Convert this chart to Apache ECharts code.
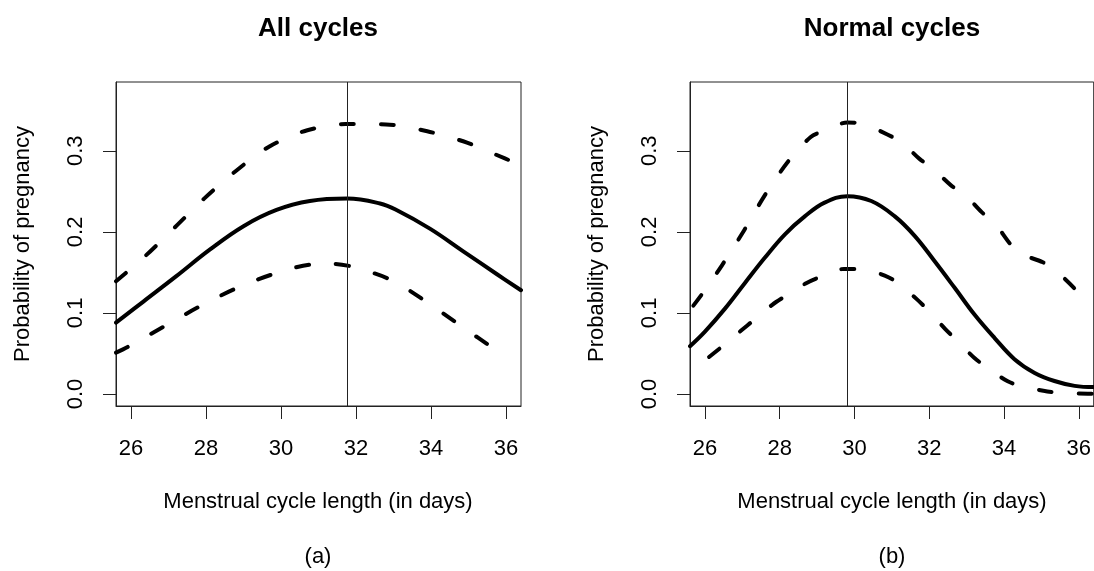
<!DOCTYPE html>
<html>
<head>
<meta charset="utf-8">
<script src="https://cdn.jsdelivr.net/npm/echarts@6/dist/echarts.min.js"></script>
<style>
html,body{margin:0;padding:0;background:#fff;}
#chart{width:1094px;height:571px;}
</style>
</head>
<body>
<div id="chart"></div>
<script>
// ---- Data ----
const xTicks = [26, 28, 30, 32, 34, 36];
const yTicks = [0, 0.1, 0.2, 0.3];

// Panel (a): All cycles
const allFitX = [25.6, 26.33, 27.2, 28.1, 29.0, 29.88, 30.77, 31.77, 32.64, 33.08, 33.97, 34.86, 35.75, 36.4];
const allFitY = [0.088, 0.114, 0.145, 0.178, 0.207, 0.227, 0.238, 0.241, 0.235, 0.227, 0.204, 0.176, 0.148, 0.128];
const allUpperX = [25.6, 26.4, 27.18, 27.95, 28.78, 29.68, 30.68, 31.72, 32.8, 33.9, 34.96, 35.97, 36.4];
const allUpperY = [0.139, 0.171, 0.206, 0.241, 0.2745, 0.305, 0.325, 0.333, 0.3325, 0.324, 0.310, 0.2905, 0.282];
const allLowerX = [25.6, 25.91, 26.86, 27.83, 28.79, 29.8, 30.86, 31.4, 31.98, 32.97, 33.9, 34.8, 35.71, 35.9];
const allLowerY = [0.051, 0.058, 0.0827, 0.108, 0.130, 0.148, 0.160, 0.1605, 0.156, 0.140, 0.113, 0.084, 0.055, 0.0506];
const allPeak = 31.77;

// Panel (b): Normal cycles
const normFitX = [25.6, 26.0, 26.53, 27.07, 27.6, 28.14, 28.67, 29.2, 29.81, 30.45, 31.08, 31.61, 32.14, 32.68, 33.21, 33.75, 34.28, 34.82, 35.35, 35.89, 36.4];
const normFitY = [0.059, 0.077, 0.105, 0.137, 0.168, 0.197, 0.219, 0.236, 0.244, 0.238, 0.219, 0.195, 0.164, 0.131, 0.098, 0.069, 0.043, 0.026, 0.016, 0.010, 0.0085];
const normUpperX = [25.69, 25.95, 26.46, 27.05, 27.6, 28.22, 28.83, 29.22, 29.81, 30.27, 30.88, 31.26, 31.74, 32.1, 32.59, 32.95, 33.41, 33.73, 34.15, 34.39, 35.04, 35.37, 35.87, 36.13];
const normUpperY = [0.109, 0.125, 0.159, 0.202, 0.245, 0.2865, 0.317, 0.325, 0.335, 0.3325, 0.320, 0.3106, 0.290, 0.278, 0.257, 0.246, 0.224, 0.212, 0.186, 0.174, 0.1625, 0.1526, 0.131, 0.116];
const normLowerX = [26.11, 26.43, 26.96, 27.29, 27.8, 28.14, 28.72, 29.12, 29.72, 30.19, 30.81, 31.16, 31.68, 31.97, 32.43, 32.72, 33.21, 33.53, 34.1, 34.5, 35.16, 35.62, 36.24, 36.4];
const normLowerY = [0.0457, 0.0575, 0.078, 0.0905, 0.110, 0.1205, 0.137, 0.145, 0.1543, 0.1543, 0.146, 0.137, 0.1164, 0.1032, 0.080, 0.067, 0.0444, 0.0333, 0.0156, 0.0094, 0.0032, 0.0012, 0.0004, 0.0003];
const normPeak = 29.81;

const titles = ['All cycles', 'Normal cycles'];
const panelTags = ['(a)', '(b)'];
const xName = 'Menstrual cycle length (in days)';
const yName = 'Probability of pregnancy';

// ---- Build chart ----
const FONT = "'Liberation Sans', Arial, Helvetica, sans-serif";
const pairs = (xs, ys) => xs.map((x, i) => [x, ys[i]]);

const grids = [
  { left: 116, top: 82, width: 405, height: 324 },
  { left: 690, top: 82, width: 406, height: 324 }
];

function xAxisFor(i) {
  return {
    type: 'value', gridIndex: i, min: 25.6, max: 36.4,
    splitLine: { show: false },
    axisLine: { show: true, onZero: false, lineStyle: { color: '#222', width: 1 } },
    axisTick: { show: true, inside: false, length: 13, customValues: xTicks, lineStyle: { color: '#222', width: 1 } },
    axisLabel: { customValues: xTicks, margin: 32, color: '#000', fontSize: 22, fontFamily: FONT, showMinLabel: true, showMaxLabel: true }
  };
}
function yAxisFor(i) {
  return {
    type: 'value', gridIndex: i, min: -0.0148, max: 0.3848,
    splitLine: { show: false },
    axisLine: { show: true, onZero: false, lineStyle: { color: '#222', width: 1 } },
    axisTick: { show: true, inside: false, length: 13, customValues: yTicks, lineStyle: { color: '#222', width: 1 } },
    axisLabel: { customValues: yTicks, rotate: 90, margin: 29, color: '#000', fontSize: 22, fontFamily: FONT,
      formatter: v => v.toFixed(1) }
  };
}

function solid(i, xs, ys, peak) {
  return {
    type: 'line', xAxisIndex: i, yAxisIndex: i, data: pairs(xs, ys),
    smooth: 0.4, showSymbol: false, symbol: 'none', clip: true, silent: true,
    lineStyle: { color: '#000', width: 4, cap: 'round', join: 'round' },
    markLine: {
      silent: true, symbol: ['none', 'none'], label: { show: false },
      lineStyle: { color: '#222', width: 1, type: 'solid' },
      data: [{ xAxis: peak }], animation: false
    }
  };
}
function dashed(i, xs, ys) {
  return {
    type: 'line', xAxisIndex: i, yAxisIndex: i, data: pairs(xs, ys),
    smooth: 0.3, showSymbol: false, symbol: 'none', clip: true, silent: true,
    lineStyle: { color: '#000', width: 4, type: [13, 27], cap: 'round', join: 'round' }
  };
}

const centers = [318, 892];
const graphics = [];
centers.forEach((cx, i) => {
  graphics.push({ type: 'text', x: cx, y: 29, style: { text: titles[i], fill: '#000', font: 'bold 26px ' + FONT, align: 'center', verticalAlign: 'middle' } });
  graphics.push({ type: 'text', x: cx, y: 502, style: { text: xName, fill: '#000', font: '22px ' + FONT, align: 'center', verticalAlign: 'middle' } });
  graphics.push({ type: 'text', x: cx, y: 557, style: { text: panelTags[i], fill: '#000', font: '22px ' + FONT, align: 'center', verticalAlign: 'middle' } });
});
[23, 597].forEach(x => {
  graphics.push({ type: 'text', x: x, y: 244, rotation: Math.PI / 2, style: { text: yName, fill: '#000', font: '22px ' + FONT, align: 'center', verticalAlign: 'middle' } });
});

const option = {
  animation: false,
  backgroundColor: '#fff',
  grid: grids.map(g => Object.assign({ show: true, borderColor: '#222', borderWidth: 1, backgroundColor: 'transparent', containLabel: false }, g)),
  xAxis: [xAxisFor(0), xAxisFor(1)],
  yAxis: [yAxisFor(0), yAxisFor(1)],
  series: [
    solid(0, allFitX, allFitY, allPeak),
    dashed(0, allUpperX, allUpperY),
    dashed(0, allLowerX, allLowerY),
    solid(1, normFitX, normFitY, normPeak),
    dashed(1, normUpperX, normUpperY),
    dashed(1, normLowerX, normLowerY)
  ],
  graphic: graphics
};

const chart = echarts.init(document.getElementById('chart'), null, { renderer: 'canvas' });
chart.setOption(option);
</script>
</body>
</html>
